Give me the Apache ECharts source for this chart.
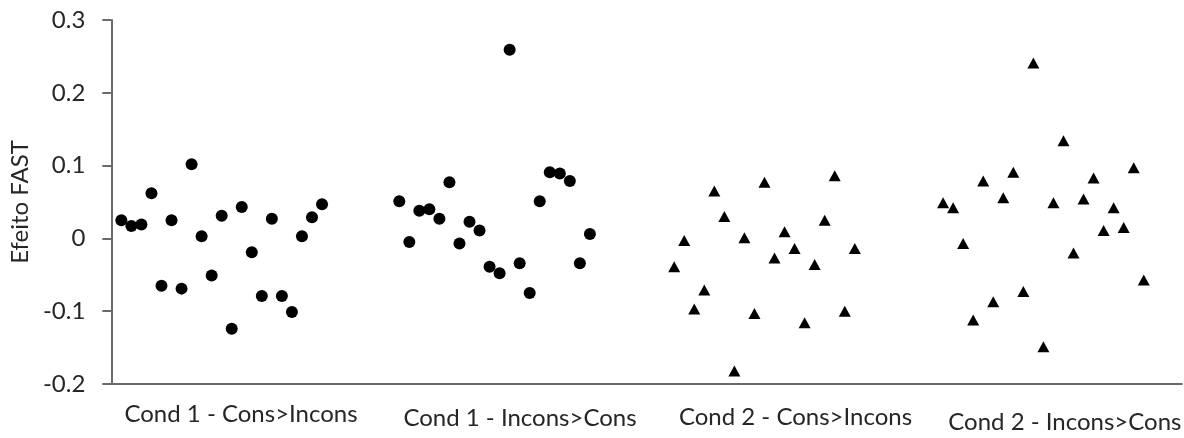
<!DOCTYPE html>
<html>
<head>
<meta charset="utf-8">
<script src="https://cdn.jsdelivr.net/npm/echarts@6/dist/echarts.min.js"></script>
<style>
html,body{margin:0;padding:0;background:#fff;}
#chart{width:1184px;height:438px;}
</style>
</head>
<body>
<div id="chart"></div>
<script>
// Categories (groups)
const categories = ["Cond 1 - Cons>Incons", "Cond 1 - Incons>Cons", "Cond 2 - Cons>Incons", "Cond 2 - Incons>Cons"];
// Participant index at which each group starts on the x axis
const groupStart = [1, 28.7, 56.1, 82.9];
// Values (Efeito FAST)
const cond1ConsIncons = [0.025, 0.017, 0.019, 0.062, -0.065, 0.025, -0.069, 0.102, 0.003, -0.051, 0.031, -0.124, 0.043, -0.019, -0.079, 0.027, -0.079, -0.101, 0.003, 0.029, 0.047];
const cond1InconsCons = [0.051, -0.005, 0.038, 0.040, 0.027, 0.077, -0.007, 0.023, 0.011, -0.039, -0.048, 0.259, -0.034, -0.075, 0.051, 0.091, 0.089, 0.079, -0.034, 0.006];
const cond2ConsIncons = [-0.039, -0.003, -0.097, -0.071, 0.065, 0.030, -0.182, 0.001, -0.103, 0.077, -0.027, 0.009, -0.014, -0.116, -0.036, 0.025, 0.086, -0.100, -0.014];
const cond2InconsCons = [0.049, 0.042, -0.007, -0.112, 0.079, -0.087, 0.056, 0.091, -0.073, 0.241, -0.149, 0.049, 0.134, -0.020, 0.054, 0.083, 0.011, 0.042, 0.015, 0.097, -0.057];
// Y tick labels
const yTicks = ["-0.2", "-0.1", "0", "0.1", "0.2", "0.3"];

const groups = [cond1ConsIncons, cond1InconsCons, cond2ConsIncons, cond2InconsCons];
const symbols = ['circle', 'circle', 'triangle', 'triangle'];
const sizes = [12, 12, [12, 11], [12, 11]];

function toPoints(vals, start) {
  return vals.map((v, i) => [start + i, v]);
}

const labelCenters = [12.93, 40.73, 68.19, 95.04];
const FONT = 'Lato';
const TXT = '#262626';

const chart = echarts.init(document.getElementById('chart'), null, {renderer: 'canvas'});
chart.setOption({
  animation: false,
  grid: {left: 107, right: 1, top: 20, bottom: 54, containLabel: false},
  xAxis: {
    type: 'value', min: 0, max: 106.7,
    splitLine: {show: false},
    axisLine: {show: true, onZero: false, lineStyle: {color: '#6a6a6a', width: 2}},
    axisTick: {show: false},
    axisLabel: {
      show: true,
      customValues: labelCenters,
      margin: 18,
      formatter: function (v, idx) {
        const i = labelCenters.indexOf(v);
        const k = i >= 0 ? i : idx;
        return '{l' + k + '|' + categories[k] + '}';
      },
      rich: {
        l0: {fontFamily: FONT, fontSize: 24, color: TXT, padding: [0, 0, 0, 0]},
        l1: {fontFamily: FONT, fontSize: 24, color: TXT, padding: [4, 0, 0, 0]},
        l2: {fontFamily: FONT, fontSize: 24, color: TXT, padding: [3, 0, 0, 0]},
        l3: {fontFamily: FONT, fontSize: 24, color: TXT, padding: [8, 0, 0, 0]}
      }
    }
  },
  yAxis: {
    type: 'value', min: -0.2, max: 0.3, interval: 0.1,
    name: 'Efeito FAST', nameLocation: 'middle', nameGap: 72,
    nameTextStyle: {fontFamily: FONT, fontSize: 24, color: TXT},
    splitLine: {show: false},
    axisLine: {show: true, lineStyle: {color: '#6a6a6a', width: 2}},
    axisTick: {show: true, length: 9, lineStyle: {color: '#6a6a6a', width: 2}},
    axisLabel: {
      margin: 26, fontFamily: FONT, fontSize: 24, color: TXT,
      formatter: function (v) {
        const idx = Math.round((v + 0.2) / 0.1);
        return yTicks[idx];
      }
    }
  },
  series: groups.map((g, i) => ({
    name: categories[i],
    type: 'scatter',
    symbol: symbols[i],
    symbolSize: sizes[i],
    itemStyle: {color: '#000', opacity: 1},
    data: toPoints(g, groupStart[i])
  }))
});
</script>
</body>
</html>
